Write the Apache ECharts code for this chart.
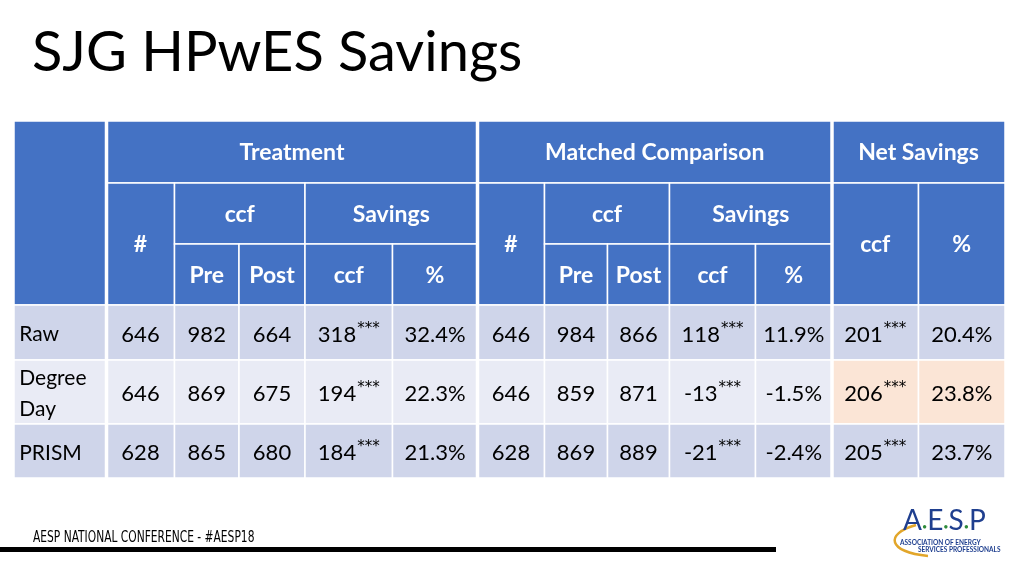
<!DOCTYPE html>
<html><head><meta charset="utf-8">
<script src="https://cdn.jsdelivr.net/npm/echarts@6/dist/echarts.min.js"></script>
<style>html,body{margin:0;padding:0;background:#fff}#c{width:1024px;height:576px}</style>
</head><body><div id="c"></div>
<script>
// ---------- data ----------
const title = 'SJG HPwES Savings';
const footerText = 'AESP NATIONAL CONFERENCE - #AESP18';
const groupHeaders = ['Treatment', 'Matched Comparison', 'Net Savings'];
const subHeaders = ['#', 'ccf', 'Savings'];
const leafHeaders = ['Pre', 'Post', 'ccf', '%'];
const rowLabels = ['Raw', 'Degree\nDay', 'PRISM'];
const treatN = [646, 646, 628];
const treatPre = [982, 869, 865];
const treatPost = [664, 675, 680];
const treatSavCcf = [318, 194, 184];
const treatSavPct = ['32.4%', '22.3%', '21.3%'];
const compN = [646, 646, 628];
const compPre = [984, 859, 869];
const compPost = [866, 871, 889];
const compSavCcf = [118, -13, -21];
const compSavPct = ['11.9%', '-1.5%', '-2.4%'];
const netCcf = [201, 206, 205];
const netPct = ['20.4%', '23.8%', '23.7%'];
const stars = '***';
const highlightRow = 1;

// ---------- layout ----------
const colW = [92.5, 68, 64.5, 66, 87.5, 85, 67, 63, 62, 86, 76.5, 86.5, 86.5];
const rowH = [62, 61, 61, 55, 64, 54];
const xE = [0]; colW.forEach(w => xE.push(xE[xE.length - 1] + w));
const yE = [0]; rowH.forEach(h => yE.push(yE[yE.length - 1] + h));
const FONT = 'Lato, "Open Sans", sans-serif';
const BLUE = '#4472C4', ROW_A = '#CFD5EA', ROW_B = '#E9EBF5', HIGH = '#FBE5D6';

const cells = [];
function add(c, r, cs, rs, text, kind, fill) {
  cells.push({ c, r, cs, rs, text, kind, fill,
    value: [xE[c], xE[c + cs], yE[r], yE[r + rs]] });
}
// header
add(0, 0, 1, 3, '', 'head', BLUE);
add(1, 0, 5, 1, groupHeaders[0], 'head', BLUE);
add(6, 0, 5, 1, groupHeaders[1], 'head', BLUE);
add(11, 0, 2, 1, groupHeaders[2], 'head', BLUE);
[1, 6].forEach(s => {
  add(s, 1, 1, 2, subHeaders[0], 'head', BLUE);
  add(s + 1, 1, 2, 1, subHeaders[1], 'head', BLUE);
  add(s + 3, 1, 2, 1, subHeaders[2], 'head', BLUE);
  leafHeaders.forEach((t, i) => add(s + 1 + i, 2, 1, 1, t, 'head', BLUE));
});
add(11, 1, 1, 2, subHeaders[1], 'head', BLUE);
add(12, 1, 1, 2, leafHeaders[3], 'head', BLUE);
// body
const st = v => '{n|' + v + '}{s|' + stars + '}';
rowLabels.forEach((lab, i) => {
  const r = 3 + i;
  const f = i % 2 === 0 ? ROW_A : ROW_B;
  const vals = [treatN[i], treatPre[i], treatPost[i], st(treatSavCcf[i]), treatSavPct[i],
    compN[i], compPre[i], compPost[i], st(compSavCcf[i]), compSavPct[i],
    st(netCcf[i]), netPct[i]];
  add(0, r, 1, 1, lab, 'label', f);
  vals.forEach((v, j) => {
    const c = j + 1;
    const fill = (i === highlightRow && c >= 11) ? HIGH : f;
    add(c, r, 1, 1, String(v).indexOf('{') === 0 ? v : '{n|' + v + '}', 'data', fill);
  });
});
const thickLines = [1, 6, 11];

const chart = echarts.init(document.getElementById('c'), null, { renderer: 'canvas' });
chart.setOption({
  animation: false,
  backgroundColor: '#fff',
  grid: { left: 14, top: 121, width: xE[xE.length - 1], height: yE[yE.length - 1] },
  xAxis: { type: 'value', min: 0, max: xE[xE.length - 1], show: false },
  yAxis: { type: 'value', min: 0, max: yE[yE.length - 1], inverse: true, show: false },
  graphic: [
    { type: 'text', left: 32, top: 25, style: { text: title, font: '400 56px ' + FONT, fill: '#000' } },
    { type: 'text', left: 33, top: 529, scaleX: 0.72, originX: 33, style: { text: footerText, font: '16.5px "DejaVu Sans Condensed", "Liberation Sans Narrow", sans-serif', fill: '#000' } },
    { type: 'rect', shape: { x: 0, y: 547, width: 776, height: 5 }, style: { fill: '#000' } },
    { type: 'bezierCurve', shape: { x1: 916, y1: 525, x2: 928, y2: 556, cpx1: 884, cpy1: 534, cpx2: 888, cpy2: 552 }, style: { stroke: '#E2A62A', lineWidth: 2.5, fill: null } },
    { type: 'text', left: 903, top: 507, style: {
      text: '{l|A}{d|•}{l|E}{d|•}{l|S}{d|•}{l|P}',
      rich: {
        l: { fontSize: 28, fontFamily: FONT, fontWeight: 400, fill: '#1F3F8F', color: '#1F3F8F', lineHeight: 30 },
        d: { fontSize: 9, fontFamily: FONT, fill: '#2E8B3A', color: '#2E8B3A', lineHeight: 30, verticalAlign: 'bottom', padding: [0, 0, 4, 0] }
      } } },
    { type: 'text', left: 900, top: 539, style: { text: 'ASSOCIATION OF ENERGY', font: 'bold 6.5px ' + FONT, fill: '#1F3F8F' } },
    { type: 'text', left: 918, top: 546, style: { text: 'SERVICES PROFESSIONALS', font: 'bold 6.5px ' + FONT, fill: '#1F3F8F' } }
  ],
  series: [{
    type: 'custom',
    coordinateSystem: 'cartesian2d',
    data: cells.map(c => c.value),
    encode: { x: [0, 1], y: [2, 3] },
    renderItem: function (params, api) {
      const cell = cells[params.dataIndex];
      const p0 = api.coord([api.value(0), api.value(2)]);
      const p1 = api.coord([api.value(1), api.value(3)]);
      const isHead = cell.kind === 'head';
      const isLabel = cell.kind === 'label';
      return {
        type: 'rect',
        shape: { x: p0[0], y: p0[1], width: p1[0] - p0[0], height: p1[1] - p0[1] },
        style: { fill: cell.fill, stroke: '#fff', lineWidth: 1.5 },
        textContent: {
          style: isHead ? { text: cell.text, font: 'bold 23px ' + FONT, fill: '#fff' }
            : isLabel ? { text: cell.text, font: '21px ' + FONT, fill: '#000', lineHeight: 31, align: 'left' }
            : {
              text: cell.text,
              rich: {
                n: { fontSize: 22, fontFamily: FONT, fill: '#000', color: '#000', lineHeight: 26 },
                s: { fontSize: 15, fontFamily: '"DejaVu Sans", sans-serif', fill: '#000', color: '#000', lineHeight: 15, verticalAlign: 'top', padding: [0, 0, 0, 1] }
              }
            }
        },
        textConfig: { position: isLabel ? 'insideLeft' : 'inside', distance: 6, offset: isHead ? [0, 1] : [0, 2] }
      };
    }
  }, {
    type: 'custom',
    coordinateSystem: 'cartesian2d',
    data: thickLines.map(c => [xE[c], 0, yE[yE.length - 1]]),
    renderItem: function (params, api) {
      const a = api.coord([api.value(0), api.value(1)]);
      const b = api.coord([api.value(0), api.value(2)]);
      return { type: 'line', shape: { x1: a[0], y1: a[1], x2: b[0], y2: b[1] }, style: { stroke: '#fff', lineWidth: 3.5 } };
    }
  }]
});
</script></body></html>
